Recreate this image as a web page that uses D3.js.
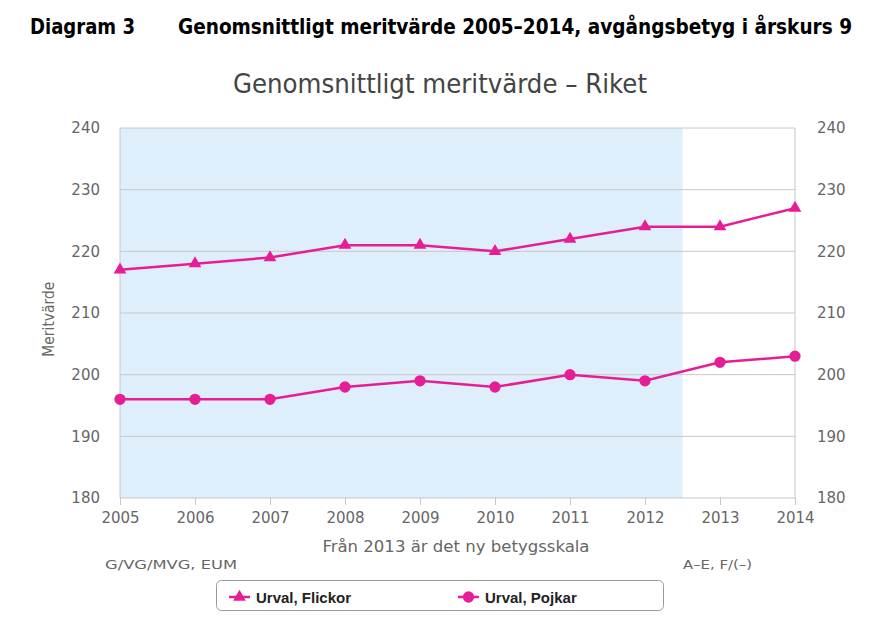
<!DOCTYPE html>
<html>
<head>
<meta charset="utf-8">
<script src="https://cdn.jsdelivr.net/npm/d3@7"></script>
<style>
  body { margin: 0; background: #fff; }
  svg { display: block; }
</style>
</head>
<body>
<svg id="chart"></svg>
<script>
const years = [2005, 2006, 2007, 2008, 2009, 2010, 2011, 2012, 2013, 2014];
const flickor = [217, 218, 219, 221, 221, 220, 222, 224, 224, 227];
const pojkar = [196, 196, 196, 198, 199, 198, 200, 199, 202, 203];
const yTicks = [180, 190, 200, 210, 220, 230, 240];

const width = 883, height = 634;
const margin = { top: 128, right: 88, bottom: 136, left: 120 };
const color = '#e61e96';

const svg = d3.select('#chart').attr('width', width).attr('height', height);

const x = d3.scaleLinear().domain([2005, 2014]).range([margin.left, width - margin.right]);
const y = d3.scaleLinear().domain([180, 240]).range([height - margin.bottom, margin.top]);

// rubrik
const head = svg.append('g').attr('font-family', '"DejaVu Sans Condensed", sans-serif')
  .attr('font-weight', 'bold').attr('font-size', 21).attr('fill', '#000');
head.append('text').attr('x', 30).attr('y', 34)
  .attr('textLength', 105).attr('lengthAdjust', 'spacingAndGlyphs').text('Diagram 3');
head.append('text').attr('x', 178).attr('y', 34)
  .attr('textLength', 674).attr('lengthAdjust', 'spacingAndGlyphs')
  .text('Genomsnittligt meritvärde 2005–2014, avgångsbetyg i årskurs 9');

svg.append('text')
  .attr('x', 440).attr('y', 93)
  .attr('text-anchor', 'middle')
  .attr('font-family', '"DejaVu Sans Condensed", "Open Sans", sans-serif')
  .attr('font-size', 27).attr('fill', '#444')
  .attr('textLength', 414).attr('lengthAdjust', 'spacingAndGlyphs')
  .text('Genomsnittligt meritvärde – Riket');

// gammal betygsskala, bakgrund
svg.append('rect')
  .attr('x', x(2005)).attr('y', y(240))
  .attr('width', x(2012.5) - x(2005)).attr('height', y(180) - y(240))
  .attr('fill', '#dfeefb');

// rutnät
svg.append('g').selectAll('line').data(yTicks).join('line')
  .attr('x1', x(2005)).attr('x2', x(2014))
  .attr('y1', d => y(d)).attr('y2', d => y(d))
  .attr('stroke', '#c4c8cc').attr('stroke-width', 1);

svg.append('g').selectAll('line').data([2005, 2014]).join('line')
  .attr('x1', d => x(d)).attr('x2', d => x(d))
  .attr('y1', y(240)).attr('y2', y(180))
  .attr('stroke', '#c4c8cc');

const tickFont = '"DejaVu Sans", sans-serif';

const yl = d3.axisLeft(y).tickValues(yTicks).tickSize(0).tickPadding(20);
const yr = d3.axisRight(y).tickValues(yTicks).tickSize(0).tickPadding(22);
const xa = d3.axisBottom(x).tickValues(years).tickFormat(d3.format('d')).tickSize(7).tickPadding(7);

function style(g) {
  g.select('.domain').remove();
  g.selectAll('text').attr('font-family', tickFont).attr('font-size', 15).attr('fill', '#666');
  g.selectAll('line').attr('stroke', '#c4c8cc');
}
svg.append('g').attr('transform', `translate(${x(2005)},0)`).call(yl).call(style);
svg.append('g').attr('transform', `translate(${x(2014)},0)`).call(yr).call(style);
svg.append('g').attr('transform', `translate(0,${y(180)})`).call(xa).call(style);

svg.append('text')
  .attr('transform', `translate(54,${y(209)}) rotate(-90)`)
  .attr('text-anchor', 'middle')
  .attr('font-family', tickFont).attr('font-size', 15).attr('fill', '#666')
  .attr('textLength', 75).attr('lengthAdjust', 'spacingAndGlyphs')
  .text('Meritvärde');

const note = svg.append('g').attr('font-family', '"DejaVu Sans Condensed", sans-serif').attr('fill', '#666');
note.append('text').attr('x', 456).attr('y', 552).attr('text-anchor', 'middle')
  .attr('font-size', 16).attr('textLength', 267).attr('lengthAdjust', 'spacingAndGlyphs')
  .text('Från 2013 är det ny betygsskala');
note.append('text').attr('x', 105).attr('y', 569).attr('font-size', 13)
  .attr('textLength', 132).attr('lengthAdjust', 'spacingAndGlyphs').text('G/VG/MVG, EUM');
note.append('text').attr('x', 683).attr('y', 569).attr('font-size', 13)
  .attr('textLength', 69).attr('lengthAdjust', 'spacingAndGlyphs').text('A–E, F/(–)');

// linjer
const line = d3.line().x((d, i) => x(years[i])).y(d => y(d));
const tri = d3.symbol().type(d3.symbolTriangle).size(70);
const circ = d3.symbol().type(d3.symbolCircle).size(100);

const series = [
  { name: 'Urval, Flickor', values: flickor, sym: tri },
  { name: 'Urval, Pojkar', values: pojkar, sym: circ }
];

series.forEach(s => {
  svg.append('path').datum(s.values)
    .attr('d', line).attr('fill', 'none')
    .attr('stroke', color).attr('stroke-width', 2.5);
  svg.append('g').selectAll('path').data(s.values).join('path')
    .attr('transform', (d, i) => `translate(${x(years[i])},${y(d)})`)
    .attr('d', s.sym).attr('fill', color);
});

// förklaring
const lg = svg.append('g');
lg.append('rect').attr('x', 216.5).attr('y', 580.5).attr('width', 447).attr('height', 30)
  .attr('rx', 5).attr('fill', '#fff').attr('stroke', '#999');
const lx = [229, 458];
series.forEach((s, i) => {
  const g = lg.append('g').attr('transform', `translate(${lx[i]},597)`);
  g.append('line').attr('x1', 0).attr('x2', 21).attr('stroke', color).attr('stroke-width', 2.5);
  g.append('path').attr('transform', 'translate(10.5,0)').attr('d', s.sym).attr('fill', color);
  g.append('text').attr('x', 27).attr('y', 5.5)
    .attr('font-family', '"Liberation Sans", Arial, sans-serif')
    .attr('font-weight', 'bold').attr('font-size', 15).attr('fill', '#222')
    .text(s.name);
});
</script>
</body>
</html>
